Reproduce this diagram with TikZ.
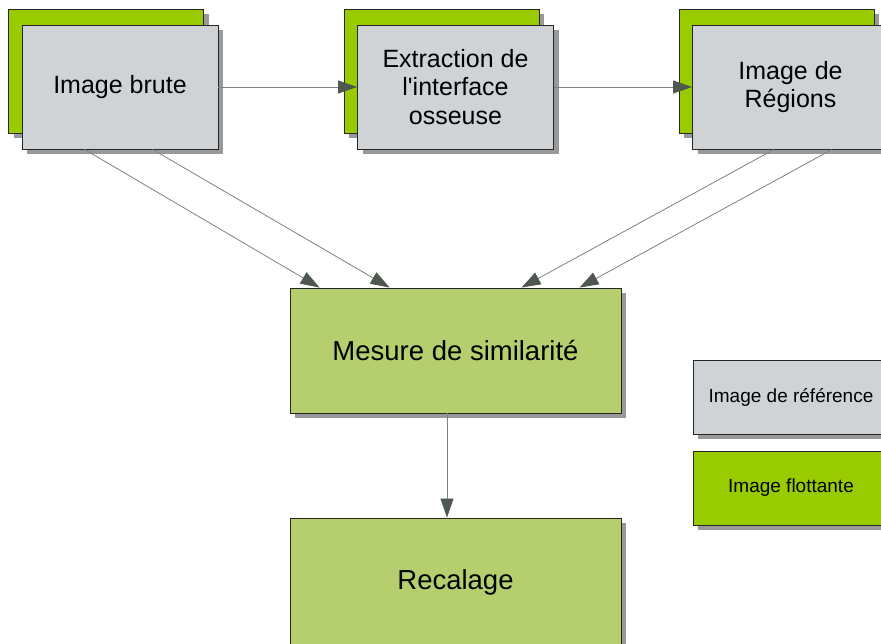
\documentclass[tikz,border=0pt]{standalone}
\usepackage{fontspec}
\setmainfont{Liberation Sans}
\usetikzlibrary{arrows.meta,calc,shadows}
\definecolor{limeg}{HTML}{99CC00}
\definecolor{gbox}{HTML}{D0D3D6}
\definecolor{oliveg}{HTML}{B5CF6E}
\definecolor{shad}{HTML}{999999}
\definecolor{tipc}{HTML}{4F584F}
\definecolor{linec}{HTML}{808080}
\begin{document}
\begin{tikzpicture}[x=1pt,y=-1pt,
  shadowed/.style={drop shadow={shadow xshift=5pt,shadow yshift=-5pt,fill=shad,opacity=1}},
  basebox/.style={rectangle,draw=black!85,line width=0.9pt,inner sep=0pt,align=center,text=black,shadowed},
  backbox/.style={basebox,fill=limeg,minimum width=195pt,minimum height=124pt},
  frontbox/.style={basebox,fill=gbox,minimum width=196pt,minimum height=124pt,font=\fontsize{25}{28.5}\selectfont},
  bigbox/.style={basebox,fill=oliveg,minimum width=331pt,font=\fontsize{27.5}{31}\selectfont},
  legbox/.style={basebox,minimum width=196pt,minimum height=74pt,font=\fontsize{19}{22}\selectfont},
  conn/.style={draw=linec,line width=0.8pt,-{Triangle[length=19pt,width=13pt,color=tipc]}}
]
\path[use as bounding box] (0,0) rectangle (881,644);
\clip (0,0) rectangle (881,644);
\fill[white] (0,0) rectangle (881,644);

% top row
\node[backbox] (bruteb) at (106,71) {};
\node[frontbox] (brute) at (120,87) {Image brute};
\node[backbox] (extrb) at (441.5,71) {};
\node[frontbox] (extr) at (455.5,87) {Extraction de\\l\textquotesingle interface\\osseuse};
\node[backbox] (regb) at (776.5,71) {};
\node[frontbox] (reg) at (790.5,87) {Image de\\Régions};

% middle / bottom
\node[bigbox,minimum height=125pt] (mes) at (455.5,350.5) {Mesure de similarité};
\node[bigbox,minimum height=128pt] (rec) at (455.5,582) {Recalage};

% legend
\node[legbox,fill=gbox] (lref) at (791,397) {Image de référence};
\node[legbox,fill=limeg] (lflo) at (791,488) {Image flottante};

% connectors
\draw[conn] (brute.east) -- (extr.west);
\draw[conn] (extr.east) -- (reg.west);
\draw[conn] ($(brute.south west)+(63,0)$) -- ($(mes.north west)+(30,0)$);
\draw[conn] ($(brute.south west)+(131,0)$) -- ($(mes.north west)+(100,0)$);
\draw[conn] ($(reg.south west)+(82,0)$) -- ($(mes.north west)+(232,0)$);
\draw[conn] ($(reg.south west)+(140,0)$) -- ($(mes.north west)+(290,0)$);
\draw[conn] ($(mes.south)+(-8.5,0)$) -- ($(rec.north)+(-8.5,0)$);
\end{tikzpicture}
\end{document}
